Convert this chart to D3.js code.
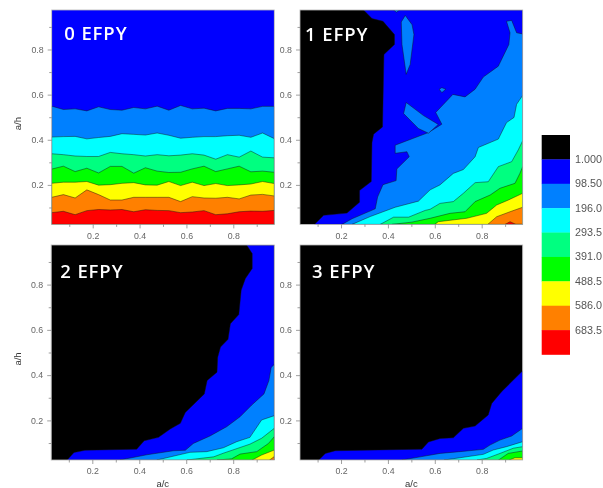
<!DOCTYPE html>
<html><head><meta charset="utf-8">
<script src="https://cdnjs.cloudflare.com/ajax/libs/d3/7.8.5/d3.min.js"></script>
<style>
html,body{margin:0;padding:0;background:#fff;overflow:hidden}
svg{display:block;filter:blur(0.55px)}
</style></head><body>
<svg id="c" width="603" height="488"></svg>
<script>
const levelLabels=["1.000","98.50","196.0","293.5","391.0","488.5","586.0","683.5"];
const levelColors=["#000000","#0000ff","#0080ff","#00ffff","#00ff80","#00ff00","#ffff00","#ff8000","#ff0000"];
const panelTitles=["0 EFPY","1 EFPY","2 EFPY","3 EFPY"];
const majorTicks=[0.2,0.4,0.6,0.8];
const minorTicks=[0.1,0.3,0.5,0.7,0.9];

// Panel 0: band boundaries sampled along a/c
const p0X=[0.025,0.075,0.125,0.175,0.225,0.275,0.325,0.375,0.425,0.475,0.525,0.575,0.625,0.675,0.725,0.775,0.825,0.875,0.925,0.975];
const p0L2=[.549,.534,.537,.528,.546,.534,.531,.543,.537,.549,.531,.552,.537,.540,.528,.539,.539,.537,.548,.548];
const p0L3=[.412,.414,.415,.404,.410,.415,.427,.424,.421,.430,.420,.407,.411,.414,.414,.418,.420,.411,.430,.405];
const p0L4=[.338,.334,.328,.326,.326,.344,.338,.334,.328,.334,.329,.332,.338,.332,.314,.334,.323,.350,.323,.320];
const p0L5=[.270,.283,.259,.274,.253,.282,.282,.252,.276,.261,.255,.256,.271,.283,.259,.271,.283,.258,.261,.256];
const p0L6=[.207,.212,.212,.215,.199,.201,.207,.210,.200,.199,.215,.197,.212,.197,.206,.197,.200,.204,.215,.206];
const p0L7=[.145,.157,.142,.178,.157,.133,.133,.145,.145,.145,.145,.126,.148,.142,.141,.145,.138,.155,.158,.151];
const p0L8=[.077,.083,.068,.086,.091,.089,.091,.081,.090,.087,.086,.077,.080,.086,.068,.072,.081,.084,.083,.087];

// Panel 1 contours as [a/c, a/h]
const p1L1=[[.0865,.025],[.126,.065],[.2255,.075],[.279,.1235],[.279,.175],[.329,.215],[.332,.388],[.339,.425],[.377,.457],[.383,.778],[.428,.822],[.428,.866],[.379,.925],[.332,.937],[.296,.975],[.975,.975]];
const p1L2=[[.204,.025],[.247,.05],[.346,.094],[.356,.146],[.379,.201],[.435,.219],[.438,.271],[.491,.325],[.481,.347],[.431,.340],[.431,.376],[.573,.432],[.630,.469],[.604,.521],[.677,.601],[.729,.590],[.772,.624],[.807,.678],[.871,.726],[.916,.822],[.921,.874],[.906,.925],[.928,.929],[.949,.874],[.975,.869]];
const p1I1=[[.474,.951],[.457,.922],[.460,.822],[.478,.690],[.495,.734],[.511,.866],[.503,.910]];
const p1I2=[[.425,.975],[.436,.965],[.450,.975]];
const p1I3=[[.478,.565],[.467,.516],[.530,.450],[.573,.429],[.615,.468],[.552,.507]];
const p1I4=[[.619,.624],[.630,.631],[.647,.624],[.630,.609]];
const p1L3=[[.247,.025],[.325,.060],[.431,.101],[.530,.128],[.580,.178],[.622,.200],[.679,.251],[.722,.268],[.772,.325],[.786,.366],[.871,.403],[.892,.447],[.906,.476],[.938,.499],[.949,.557],[.975,.597]];
const p1L4=[[.367,.025],[.424,.057],[.488,.057],[.559,.087],[.580,.092],[.622,.118],[.679,.126],[.722,.163],[.772,.210],[.828,.214],[.871,.281],[.928,.303],[.956,.355],[.975,.396]];
const p1L5=[[.417,.025],[.502,.035],[.580,.052],[.665,.074],[.729,.081],[.772,.126],[.836,.155],[.878,.185],[.942,.207],[.963,.251],[.975,.281]];
const p1L6=[[.600,.025],[.615,.037],[.736,.052],[.821,.074],[.864,.111],[.914,.133],[.975,.163]];
const p1L7=[[.826,.025],[.864,.059],[.921,.081],[.975,.101]];
const p1L8=[[.900,.025],[.921,.037],[.946,.025]];

// Panel 2
const p2L1=[[.093,.025],[.122,.058],[.169,.068],[.389,.073],[.421,.110],[.482,.125],[.532,.162],[.575,.187],[.596,.235],[.677,.317],[.689,.376],[.731,.413],[.734,.479],[.746,.524],[.778,.558],[.788,.627],[.824,.668],[.834,.775],[.852,.827],[.881,.871],[.881,.937],[.857,.975],[.975,.975]];
const p2L2=[[.318,.025],[.432,.048],[.546,.066],[.596,.068],[.630,.098],[.701,.131],[.772,.172],[.829,.216],[.879,.268],[.931,.317],[.952,.376],[.962,.435],[.975,.447]];
const p2L3=[[.475,.025],[.616,.059],[.687,.062],[.758,.079],[.815,.106],[.871,.125],[.921,.202],[.975,.221]];
const p2L4=[[.603,.025],[.717,.039],[.758,.055],[.871,.095],[.921,.121],[.975,.165]];
const p2L5=[[.731,.025],[.793,.030],[.829,.051],[.900,.062],[.950,.098],[.975,.128]];
const p2L6=[[.881,.025],[.921,.047],[.975,.069]];
const p2L7=[[.955,.025],[.975,.040]];

// Panel 3
const p3L1=[[.105,.025],[.133,.054],[.176,.066],[.545,.073],[.573,.105],[.623,.120],[.679,.123],[.722,.165],[.772,.175],[.828,.224],[.843,.275],[.885,.327],[.975,.419]];
const p3L2=[[.460,.025],[.538,.039],[.622,.054],[.707,.062],[.807,.072],[.835,.091],[.878,.113],[.928,.131],[.975,.165]];
const p3L3=[[.640,.025],[.707,.035],[.807,.050],[.849,.069],[.906,.084],[.975,.106]];
const p3L4=[[.780,.025],[.821,.032],[.878,.054],[.935,.077],[.975,.084]];
const p3L5=[[.872,.025],[.913,.054],[.975,.065]];
const p3L6=[[.918,.025],[.942,.035],[.975,.035]];

const corner=[.975,.025], leftCorner=[.025,.025];
const p0Band=ys=>[...p0X.map((x,i)=>[x,ys[i]]),corner,leftCorner];
const closed=pts=>[...pts,corner];

const panels=[
 {title:0,left:51.7,top:10,w:222.6,h:214.4,tx:12.5,ty:29.5,yLabel:true,xLabel:false,base:1,layers:[
  [2,p0Band(p0L2)],[3,p0Band(p0L3)],[4,p0Band(p0L4)],[5,p0Band(p0L5)],[6,p0Band(p0L6)],[7,p0Band(p0L7)],[8,p0Band(p0L8)]]},
 {title:1,left:300,top:10,w:222.7,h:214.4,tx:5,ty:30.5,yLabel:false,xLabel:false,base:0,layers:[
  [1,closed(p1L1)],[2,closed(p1L2)],[2,p1I1],[2,p1I2],[2,p1I3],[2,p1I4],[3,closed(p1L3)],[4,closed(p1L4)],[5,closed(p1L5)],[6,closed(p1L6)],[7,closed(p1L7)],[8,closed(p1L8)]]},
 {title:2,left:51.2,top:245,w:223.1,h:215,tx:9,ty:33,yLabel:true,xLabel:true,base:0,layers:[
  [1,closed(p2L1)],[2,closed(p2L2)],[3,closed(p2L3)],[4,closed(p2L4)],[5,closed(p2L5)],[6,closed(p2L6)],[7,closed(p2L7)]]},
 {title:3,left:300,top:245,w:222.7,h:215,tx:12,ty:33,yLabel:false,xLabel:true,base:0,layers:[
  [1,closed(p3L1)],[2,closed(p3L2)],[3,closed(p3L3)],[4,closed(p3L4)],[5,closed(p3L5)],[6,closed(p3L6)]]}
];

const svg=d3.select("#c");
const axisFont="'Liberation Sans',Arial,sans-serif";
panels.forEach((p,idx)=>{
  const x=d3.scaleLinear().domain([.025,.975]).range([0,p.w]);
  const y=d3.scaleLinear().domain([.025,.975]).range([p.h,0]);
  const g=svg.append("g").attr("transform",`translate(${p.left},${p.top})`);
  const clipId="clip"+idx;
  g.append("clipPath").attr("id",clipId).append("rect").attr("width",p.w).attr("height",p.h);
  const plot=g.append("g").attr("clip-path",`url(#${clipId})`);
  plot.append("rect").attr("width",p.w).attr("height",p.h).attr("fill",levelColors[p.base]);
  const line=d3.line().x(d=>x(d[0])).y(d=>y(d[1])).curve(d3.curveLinearClosed);
  plot.selectAll("path.band").data(p.layers).join("path").attr("class","band")
    .attr("d",d=>line(d[1])).attr("fill",d=>levelColors[d[0]])
    .attr("stroke","#111").attr("stroke-opacity",.75).attr("stroke-width",.6).attr("stroke-linejoin","round");
  g.append("rect").attr("width",p.w).attr("height",p.h).attr("fill","none").attr("stroke","#b5b5b5").attr("stroke-width",.8);

  const ax=g.append("g").attr("transform",`translate(0,${p.h})`)
    .call(d3.axisBottom(x).tickValues(majorTicks).tickFormat(d3.format(".1f")).tickSize(4).tickPadding(4));
  const ay=g.append("g").call(d3.axisLeft(y).tickValues(majorTicks).tickFormat(d3.format(".1f")).tickSize(4).tickPadding(4));
  const mx=g.append("g").attr("transform",`translate(0,${p.h})`).call(d3.axisBottom(x).tickValues(minorTicks).tickFormat("").tickSize(2.5));
  const my=g.append("g").call(d3.axisLeft(y).tickValues(minorTicks).tickFormat("").tickSize(2.5));
  [ax,ay,mx,my].forEach(a=>{
    a.select(".domain").remove();
    a.selectAll("line").attr("stroke","#777").attr("stroke-width",.7);
    a.selectAll("text").attr("fill","#666").attr("font-family",axisFont).attr("font-size",8.8);
  });
  g.append("text").text(panelTitles[p.title]).attr("x",p.tx).attr("y",p.ty)
    .attr("fill","#fff").attr("font-family","'Open Sans',sans-serif").attr("font-size",18.5)
    .attr("font-weight",600).attr("letter-spacing",.9);
  if(p.yLabel) g.append("text").text("a/h").attr("transform",`translate(${21-p.left},${p.h*.53}) rotate(-90)`)
    .attr("text-anchor","middle").attr("font-family",axisFont).attr("font-size",9.5).attr("fill","#333");
  if(p.xLabel) g.append("text").text("a/c").attr("x",p.w*.5).attr("y",p.h+26.5)
    .attr("text-anchor","middle").attr("font-family",axisFont).attr("font-size",9.5).attr("fill","#333");
});

// Colour legend
const legendY=d3.scaleBand().domain(d3.range(levelColors.length)).range([135,354.5]);
const legend=svg.append("g");
legend.selectAll("rect").data(levelColors).join("rect")
  .attr("x",541.7).attr("width",28.3).attr("y",(d,i)=>legendY(i)).attr("height",legendY.bandwidth()+.3).attr("fill",d=>d);
legend.selectAll("text").data(levelLabels).join("text").text(d=>d)
  .attr("x",575).attr("y",(d,i)=>legendY(i+1)+3.5).attr("font-family",axisFont).attr("font-size",10.8).attr("fill","#555");
</script></body></html>
